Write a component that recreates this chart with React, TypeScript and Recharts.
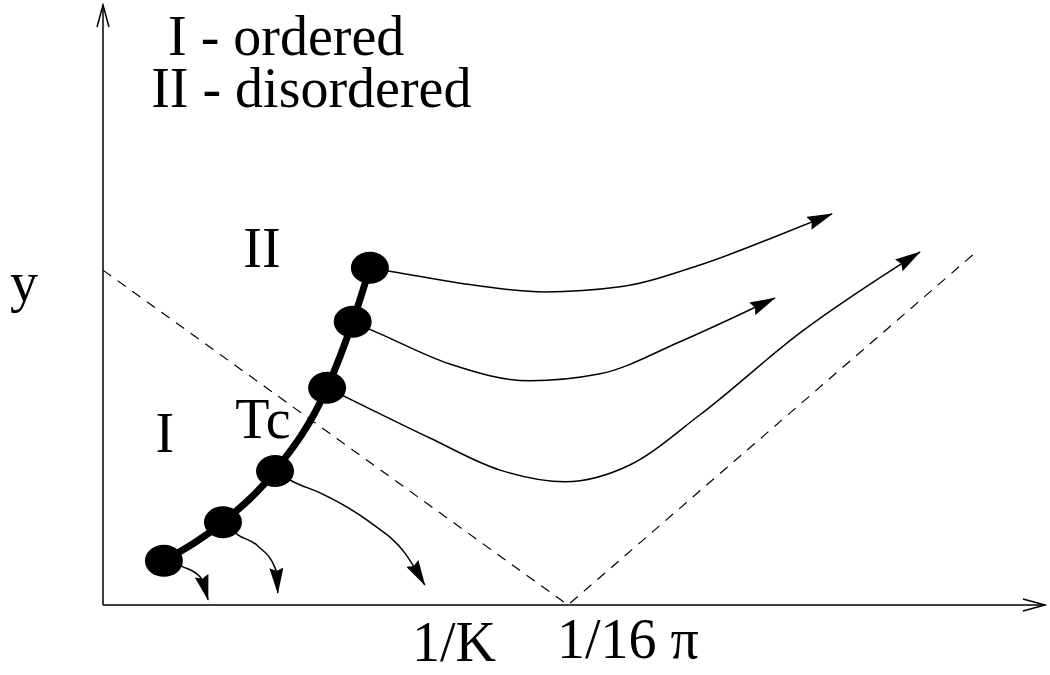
import { ComposedChart, XAxis, YAxis, Line, Scatter, ReferenceDot, Label } from 'recharts'

// units: 1 on either axis is the distance from the origin to 1/16π
const criticalPoints = [
  { x: 0.131, y: 0.095 },
  { x: 0.258, y: 0.178 },
  { x: 0.370, y: 0.288 },
  { x: 0.482, y: 0.467 },
  { x: 0.537, y: 0.609 },
  { x: 0.574, y: 0.725 },
]

const flowA = [
  { x: 0.574, y: 0.725 },
  { x: 0.639, y: 0.714 },
  { x: 0.768, y: 0.692 },
  { x: 0.951, y: 0.673 },
  { x: 1.112, y: 0.684 },
  { x: 1.284, y: 0.731 },
  { x: 1.456, y: 0.796 },
  { x: 1.568, y: 0.841 },
]
const flowB = [
  { x: 0.537, y: 0.609 },
  { x: 0.596, y: 0.583 },
  { x: 0.746, y: 0.518 },
  { x: 0.918, y: 0.482 },
  { x: 1.069, y: 0.497 },
  { x: 1.241, y: 0.566 },
  { x: 1.445, y: 0.660 },
]
const flowC = [
  { x: 0.482, y: 0.467 },
  { x: 0.553, y: 0.432 },
  { x: 0.703, y: 0.359 },
  { x: 0.854, y: 0.290 },
  { x: 0.994, y: 0.265 },
  { x: 1.133, y: 0.301 },
  { x: 1.284, y: 0.409 },
  { x: 1.499, y: 0.585 },
  { x: 1.757, y: 0.759 },
]
const flowD = [
  { x: 0.370, y: 0.288 },
  { x: 0.409, y: 0.265 },
  { x: 0.467, y: 0.241 },
  { x: 0.574, y: 0.178 },
  { x: 0.649, y: 0.112 },
  { x: 0.692, y: 0.043 },
]
const flowE = [
  { x: 0.258, y: 0.178 },
  { x: 0.290, y: 0.151 },
  { x: 0.333, y: 0.127 },
  { x: 0.372, y: 0.075 },
  { x: 0.376, y: 0.026 },
]
const flowF = [
  { x: 0.131, y: 0.095 },
  { x: 0.172, y: 0.082 },
  { x: 0.209, y: 0.060 },
  { x: 0.226, y: 0.011 },
]
const flows = [flowA, flowB, flowC, flowD, flowE, flowF]

// dashed V touching the axis at 1/16π
const separatrix = [
  { x: 0, y: 0.72 },
  { x: 1, y: 0 },
  { x: 1.871, y: 0.753 },
]

const regionLabels = [
  { x: 0.394, y: 1.226, text: 'I - ordered' },
  { x: 0.448, y: 1.114, text: 'II - disordered' },
  { x: 0.342, y: 0.770, text: 'II' },
  { x: 0.133, y: 0.372, text: 'I' },
  { x: 0.344, y: 0.402, text: 'Tc' },
]

const xTicks = [1]
const xTickLabels = ['1/16 π']

const FONT = "'Liberation Serif', 'Times New Roman', serif"
const FS = 56

function XTick({ x, y, index }: any) {
  return (
    <text x={x - 11} y={y + 45} fontFamily={FONT} fontSize={FS} fill="#000">
      {xTickLabels[index]}
    </text>
  )
}

function Dot({ cx, cy }: any) {
  return <ellipse cx={cx} cy={cy} rx={19} ry={16} fill="#000" />
}

export default function App() {
  return (
    <div style={{ width: 1050, height: 675 }}>
      <style>{'body{margin:0}'}</style>
      <ComposedChart width={1050} height={675} margin={{ top: 5, right: 5, left: 0, bottom: 8 }}>
        <defs>
          <marker
            id="flowArrow"
            viewBox="0 0 26 14"
            refX={25}
            refY={7}
            markerWidth={26}
            markerHeight={14}
            markerUnits="userSpaceOnUse"
            orient="auto"
          >
            <path d="M0,0 L26,7 L0,14 L3,7 z" fill="#000" />
          </marker>
          <marker
            id="axisEnd"
            viewBox="-2 -2 26 16"
            refX={22}
            refY={6}
            markerWidth={26}
            markerHeight={16}
            markerUnits="userSpaceOnUse"
            orient="auto"
          >
            <path d="M0,0 L22,6 L0,12" fill="none" stroke="#000" strokeWidth={1.5} />
          </marker>
          <marker
            id="axisStart"
            viewBox="-2 -2 26 16"
            refX={0}
            refY={6}
            markerWidth={26}
            markerHeight={16}
            markerUnits="userSpaceOnUse"
            orient="auto"
          >
            <path d="M22,0 L0,6 L22,12" fill="none" stroke="#000" strokeWidth={1.5} />
          </marker>
        </defs>
        <XAxis
          type="number"
          dataKey="x"
          domain={[0, 2.026]}
          allowDataOverflow
          ticks={xTicks}
          tick={<XTick />}
          tickLine={false}
          height={62}
          axisLine={{ stroke: '#000', strokeWidth: 1.5, markerEnd: 'url(#axisEnd)' }}
        >
          <Label
            value="1/K"
            position="insideBottom"
            offset={0}
            dx={-120}
            dy={-6}
            style={{ fontFamily: FONT, fontSize: FS, fill: '#000' }}
          />
        </XAxis>
        <YAxis
          type="number"
          dataKey="y"
          domain={[0, 1.29]}
          allowDataOverflow
          tick={false}
          tickLine={false}
          width={103}
          axisLine={{ stroke: '#000', strokeWidth: 1.5, markerStart: 'url(#axisStart)' }}
        >
          <Label
            value="y"
            position="insideLeft"
            offset={10}
            dy={-24}
            style={{ fontFamily: FONT, fontSize: FS, fill: '#000' }}
          />
        </YAxis>
        <Line
          data={separatrix}
          dataKey="y"
          type="linear"
          stroke="#000"
          strokeWidth={1.2}
          strokeDasharray="10 8"
          dot={false}
          activeDot={false}
          isAnimationActive={false}
        />
        {flows.map((f, i) => (
          <Line
            key={i}
            data={f}
            dataKey="y"
            type="monotone"
            stroke="#000"
            strokeWidth={1.5}
            dot={false}
            activeDot={false}
            markerEnd="url(#flowArrow)"
            isAnimationActive={false}
          />
        ))}
        <Line
          data={criticalPoints}
          dataKey="y"
          type="monotone"
          stroke="#000"
          strokeWidth={7}
          dot={false}
          activeDot={false}
          isAnimationActive={false}
        />
        <Scatter data={criticalPoints} dataKey="y" shape={<Dot />} isAnimationActive={false} />
        {regionLabels.map((l) => (
          <ReferenceDot
            key={l.text}
            x={l.x}
            y={l.y}
            r={0}
            stroke="none"
            fill="none"
            label={{ value: l.text, position: 'center', style: { fontFamily: FONT, fontSize: FS, fill: '#000' } }}
          />
        ))}
      </ComposedChart>
    </div>
  )
}
